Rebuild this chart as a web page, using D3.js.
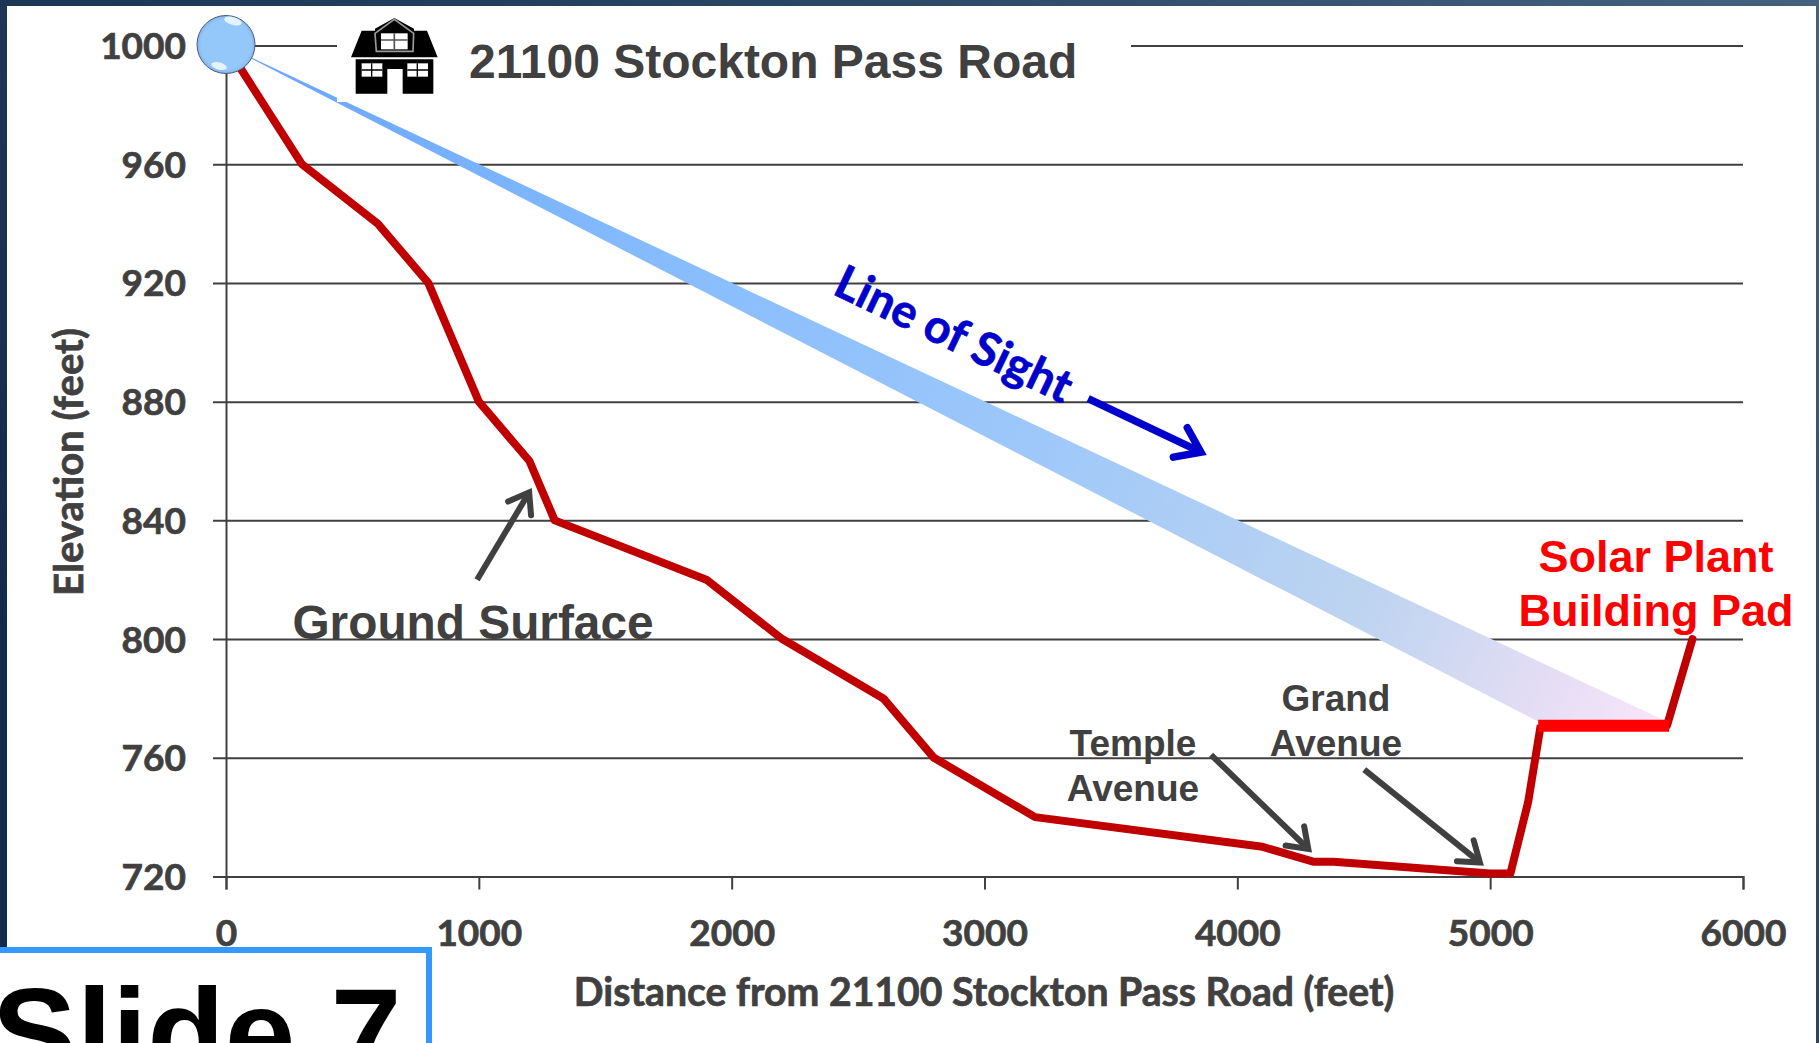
<!DOCTYPE html>
<html><head><meta charset="utf-8">
<script src="https://cdn.jsdelivr.net/npm/d3@7"></script>
<style>html,body{margin:0;padding:0;overflow:hidden;background:#fff}svg{display:block}</style>
</head><body><svg id="c" width="1819" height="1043"></svg>
<script>
const groundDistance=[0,300,600,800,1000,1200,1300,1900,2200,2600,2800,3200,4100,4300,4380,5000,5080,5150,5200];
const groundElevation=[1000,960,940,920,880,860,840,820,800,780,760,740,730,725,725,721,721,745,771];
const padDistance=[5190,5708];
const padElevation=[770.8,770.8];
const riseDistance=[5700,5800];
const riseElevation=[771,800];
const sightDistance=[0,5705,5195];
const sightElevation=[1000,772,772];
const xTicks=[0,1000,2000,3000,4000,5000,6000];
const yTicks=[720,760,800,840,880,920,960,1000];
const grayArrows=[[993,820,1210,851],[3896,761,4296,728],[4502,756,4976,723.6]];
const blueArrow=[3410,881,3880,862];

const svg=d3.select('#c');
const W=1819,H=1043;
const defs=svg.append('defs');
const bg=defs.append('linearGradient').attr('id','bg').attr('x1',0).attr('x2',1).attr('y1',0.6).attr('y2',0);
bg.append('stop').attr('offset',0).attr('stop-color','#142a4c');
bg.append('stop').attr('offset',.5).attr('stop-color','#26405f');
bg.append('stop').attr('offset',1).attr('stop-color','#44627f');
svg.append('rect').attr('width',W).attr('height',H).attr('fill','url(#bg)');
svg.append('rect').attr('x',7).attr('y',6).attr('width',1809).attr('height',H).attr('fill','#fff');

const x=d3.scaleLinear().domain([0,6000]).range([226,1743]);
const y=d3.scaleLinear().domain([720,1000]).range([876.5,45.5]);

const sg=defs.append('linearGradient').attr('id','los').attr('gradientUnits','userSpaceOnUse')
 .attr('x1',x(0)).attr('y1',y(1000)).attr('x2',x(5705)).attr('y2',y(772));
[[0,'#66a3ff'],[.3,'#86bcfd'],[.55,'#9cc7fa'],[.8,'#bed4f0'],[.92,'#e4ddf4'],[1,'#f9e6fa']].forEach(s=>sg.append('stop').attr('offset',s[0]).attr('stop-color',s[1]));

const axisText=sel=>sel.attr('fill','#404040').attr('stroke','#404040').attr('stroke-width',0.7)
 .attr('font-family','Lato').attr('font-weight',700);

const gy=svg.append('g').attr('transform',`translate(${x(0)},0)`)
 .call(d3.axisLeft(y).tickValues(yTicks).tickSize(0).tickPadding(0).tickFormat(d3.format('d')));
gy.select('.domain').attr('stroke','#404040').attr('stroke-width',2);
gy.selectAll('.tick line').attr('x1',-13).attr('x2',x(6000)-x(0)).attr('stroke','#404040').attr('stroke-width',2);
gy.selectAll('.tick text').attr('x',-40).attr('dy','0.35em').call(axisText).attr('font-size',37);
const gx=svg.append('g').attr('transform',`translate(0,${y(720)})`)
 .call(d3.axisBottom(x).tickValues(xTicks).tickSize(13).tickPadding(30).tickFormat(d3.format('d')));
gx.select('.domain').attr('stroke','#404040').attr('stroke-width',2);
gx.selectAll('.tick line').attr('stroke','#404040').attr('stroke-width',2);
gx.selectAll('.tick text').call(axisText).attr('font-size',37);

svg.append('text').attr('transform','translate(69,462) rotate(-90)').attr('text-anchor','middle').attr('dy','0.35em')
 .call(axisText).attr('font-size',40).text('Elevation (feet)');
svg.append('text').attr('x',984).attr('y',992).attr('text-anchor','middle').attr('dy','0.35em')
 .call(axisText).attr('font-size',39.2).text('Distance from 21100 Stockton Pass Road (feet)');

svg.append('path').attr('fill','url(#los)')
 .attr('d',d3.line()(sightDistance.map((d,i)=>[x(d),y(sightElevation[i])]))+'Z');

const line=(a,b)=>d3.line().x(d=>x(d)).y((d,i)=>y(b[i]))(a);
svg.append('path').attr('d',line(groundDistance,groundElevation)).attr('fill','none').attr('stroke','#c00000').attr('stroke-width',8).attr('stroke-linejoin','round');
svg.append('path').attr('d',line(riseDistance,riseElevation)).attr('fill','none').attr('stroke','#c00000').attr('stroke-width',8).attr('stroke-linecap','round');
svg.append('path').attr('d',line(padDistance,padElevation)).attr('fill','none').attr('stroke','#ff0000').attr('stroke-width',12);

svg.append('rect').attr('x',337).attr('y',15).attr('width',794).attr('height',87).attr('fill','#fff');
const house=svg.append('g').attr('transform','translate(351,18) scale(0.3333)');
house.append('path').attr('fill','#000').attr('d','M0 118L32 38L72 38L72 32L130 0L189 32L189 38L228 38L260 118Z');
house.append('path').attr('fill','none').attr('stroke','#9a9a9a').attr('stroke-width',5).attr('d','M72 46L130 4L188 46L186 100L76 100Z');
house.append('rect').attr('x',90).attr('y',46).attr('width',80).attr('height',48).attr('fill','#fff');
house.append('path').attr('stroke','#555').attr('stroke-width',5).attr('d','M130 46V94M90 66H170');
house.append('path').attr('fill','#000').attr('d','M14 124H247V227H155V153H109V227H14Z');
[[32,136],[169,136]].forEach(p=>{
 house.append('rect').attr('x',p[0]).attr('y',p[1]).attr('width',62).attr('height',40).attr('fill','#fff');
 house.append('path').attr('stroke','#000').attr('stroke-width',4).attr('d',`M${p[0]+30} ${p[1]}v40M${p[0]} ${p[1]+20}h62`);
});
svg.append('text').attr('x',469).attr('y',61).attr('dy','0.35em').attr('font-family','Liberation Sans').attr('font-weight',700).attr('font-size',48).attr('fill','#404040').text('21100 Stockton Pass Road');

const cg=defs.append('radialGradient').attr('id','ball');
cg.append('stop').attr('offset',.85).attr('stop-color','#94c8fb');
cg.append('stop').attr('offset',1).attr('stop-color','#86b6ea');
svg.append('circle').attr('cx',x(0)).attr('cy',y(1000)-1).attr('r',29).attr('fill','url(#ball)').attr('stroke','#4a5a80').attr('stroke-width',1);
svg.append('ellipse').attr('cx',233).attr('cy',21).attr('rx',9).attr('ry',4).attr('fill','#e4f3ff').attr('transform','rotate(15 233 21)');
svg.append('ellipse').attr('cx',219).attr('cy',66).attr('rx',8).attr('ry',3.5).attr('fill','#e4f3ff').attr('transform','rotate(15 219 66)');

function arrow(a,color,w,head){
 const x1=x(a[0]),y1=y(a[1]),x2=x(a[2]),y2=y(a[3]);
 const ang=Math.atan2(y2-y1,x2-x1),sp=0.62;
 const inset=w*0.9;
 const t=[x2-inset*Math.cos(ang),y2-inset*Math.sin(ang)];
 svg.append('path').attr('fill','none').attr('stroke',color).attr('stroke-width',w)
  .attr('d',d3.line()([[x1,y1],t]));
 svg.append('path').attr('fill','none').attr('stroke',color).attr('stroke-width',w).attr('stroke-linecap','round').attr('stroke-linejoin','miter')
  .attr('d',d3.line()([[t[0]-head*Math.cos(ang-sp),t[1]-head*Math.sin(ang-sp)],t,[t[0]-head*Math.cos(ang+sp),t[1]-head*Math.sin(ang+sp)]]));
}
grayArrows.forEach(a=>arrow(a,'#404040',6,23));
arrow(blueArrow,'#0000cc',7.5,28);

const lab=(t,px,py,fs,col)=>svg.append('text').attr('x',px).attr('y',py).attr('dy','0.35em').attr('text-anchor','middle')
 .attr('font-family','Liberation Sans').attr('font-weight',700).attr('font-size',fs).attr('fill',col).text(t);
lab('Ground Surface',473,622,47.8,'#404040');
lab('Temple',1133,743,37,'#404040');
lab('Avenue',1133,788,37,'#404040');
lab('Grand',1336,698,37,'#404040');
lab('Avenue',1336,743,37,'#404040');
lab('Solar Plant',1656,556,45,'#ff0000');
lab('Building Pad',1656,610,45,'#ff0000');
svg.append('text').attr('transform','translate(954,334) rotate(25.5)').attr('text-anchor','middle').attr('dy','0.35em')
 .attr('font-family','Lato').attr('font-weight',700).attr('stroke','#0000cc').attr('stroke-width',0.7).attr('font-size',46.5).attr('fill','#0000cc').text('Line of Sight');

svg.append('rect').attr('x',-10).attr('y',950).attr('width',439).attr('height',120).attr('fill','#fff').attr('stroke','#3399ff').attr('stroke-width',6);
svg.append('text').attr('x',-8).attr('y',1077).attr('font-family','Liberation Sans').attr('font-weight',700).attr('font-size',127).attr('fill','#000').text('Slide 7');
</script></body></html>
